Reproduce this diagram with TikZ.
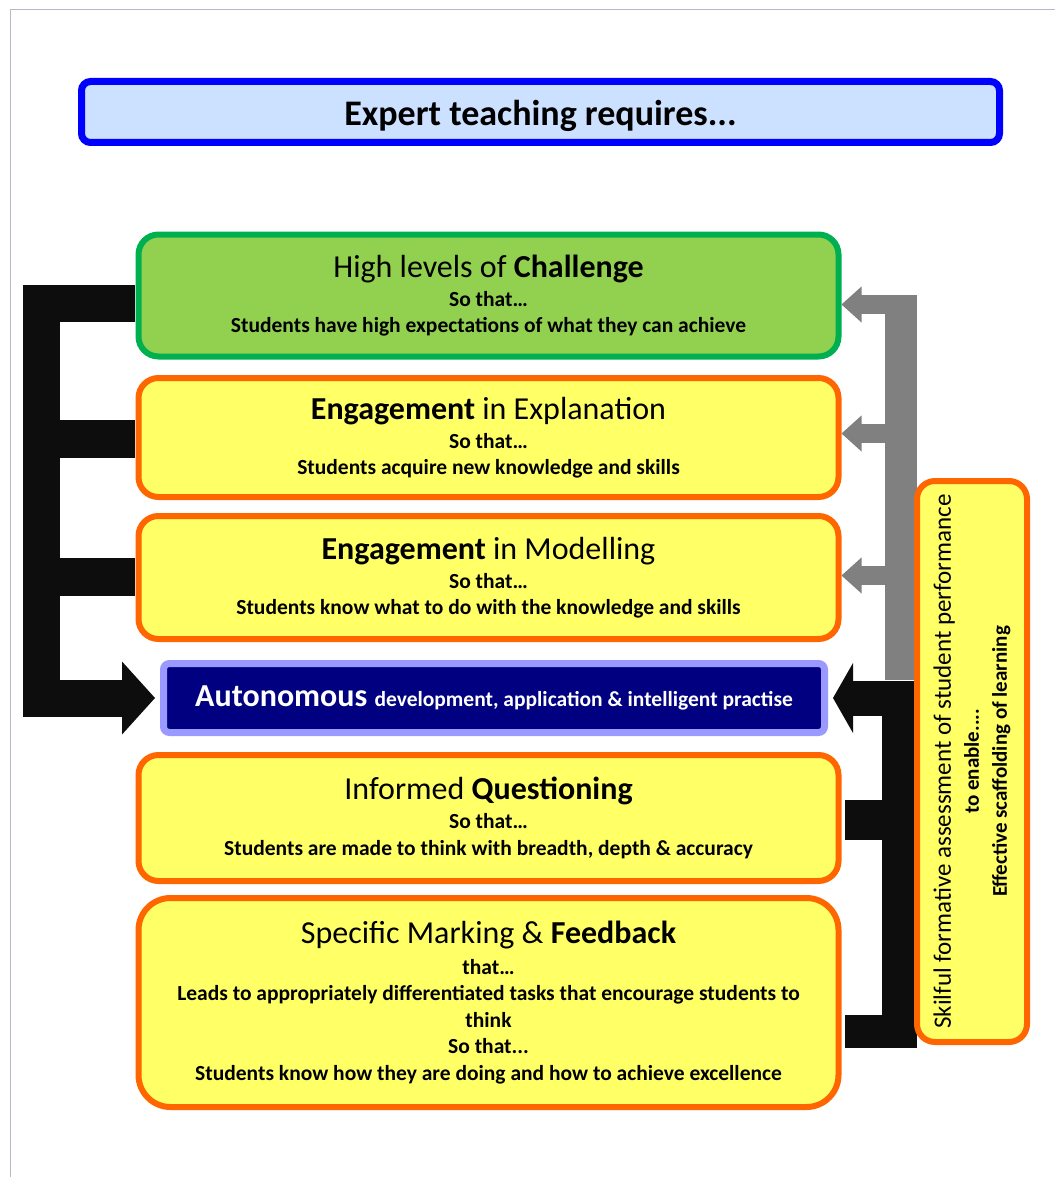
\documentclass[tikz,border=0pt]{standalone}
\usepackage{fontspec}
\setmainfont{Carlito}
\usetikzlibrary{positioning}

\definecolor{titlefill}{RGB}{204,224,255}
\definecolor{titleline}{RGB}{0,0,255}
\definecolor{chalfill}{RGB}{146,208,80}
\definecolor{challine}{RGB}{0,176,80}
\definecolor{yelfill}{RGB}{255,255,102}
\definecolor{orline}{RGB}{255,102,0}
\definecolor{autofill}{RGB}{0,0,128}
\definecolor{autoline}{RGB}{153,153,255}
\definecolor{pageline}{RGB}{180,186,198}
\definecolor{barblack}{RGB}{13,13,13}
\definecolor{bargray}{RGB}{128,128,128}

\newcommand{\headfont}{\fontsize{32}{36}\selectfont\mdseries}

\begin{document}
\begin{tikzpicture}[x=1pt,y=-1pt,
    box/.style = {rectangle,rounded corners=20pt,align=center,inner sep=0pt,
      minimum width=700pt,font=\fontsize{21.5}{26.5}\selectfont\bfseries},
    yellowbox/.style = {box,draw=orline,fill=yelfill,line width=6pt},
    blackbar/.style = {draw=barblack,line cap=butt,line join=miter},
    graybar/.style = {draw=bargray,line cap=butt,line join=miter}]
  \useasboundingbox (0,0) rectangle (1055,1177);
  \fill[white] (0,0) rectangle (1055,1177);
  \draw[pageline,line width=1pt] (10,1177) -- (10,10) -- (1055,10);

  % title
  \node[rectangle,rounded corners=9pt,draw=titleline,fill=titlefill,line width=7pt,
    minimum width=918pt,minimum height=61pt,inner sep=0pt,
    font=\fontsize{36}{40}\selectfont\bfseries] (title) at (540.5,112)
    {\raisebox{-14pt}[0pt][0pt]{Expert teaching requires...}};

  % left bracket (drawn under the boxes)
  \coordinate (lbar) at (41.5,698.5);
  \coordinate (rbar) at (901,300);
  \draw[blackbar,line width=37pt] (135,303.5) -- (41.5,303.5) -- (lbar) -- (123,698.5);
  \draw[blackbar,line width=38pt] (135,439) -- (33,439);
  \draw[blackbar,line width=38pt] (135,577) -- (33,577);

  % right side bars
  \draw[graybar,line width=32pt] (901,680) -- (901,295);
  \draw[blackbar,line width=35pt] (899.5,697.5) -- (899.5,1048);
  \draw[blackbar,line width=40pt] (899.5,820) -- (845,820);
  \draw[blackbar,line width=33pt] (899.5,1031.5) -- (845,1031.5);

  % main boxes
  \node[box,draw=challine,fill=chalfill,line width=6pt,minimum height=122pt] (chal) at (488.5,295.5)
    {{\headfont High levels of \textbf{Challenge}}\\[2.5pt] So that…\\ Students have high expectations of what they can achieve};
  \node[yellowbox,minimum height=119pt] (expl) at (488.5,437.5)
    {{\headfont\textbf{Engagement} in Explanation}\\[2.5pt] So that…\\ Students acquire new knowledge and skills};
  \node[yellowbox,minimum height=123pt] (mod) at (488.5,577.5)
    {{\headfont\textbf{Engagement} in Modelling}\\[2.5pt] So that…\\ Students know what to do with the knowledge and skills};
  \node[rectangle,rounded corners=6pt,draw=autoline,fill=autofill,line width=7pt,text=white,
    minimum width=661pt,minimum height=69pt,inner sep=0pt] (auto) at (494,698)
    {{\fontsize{32}{34}\selectfont\bfseries Autonomous\ }{\fontsize{21.5}{24}\selectfont\bfseries development, application \& intelligent practise}};
  \node[yellowbox,minimum height=126pt] (ques) at (488.5,818)
    {{\headfont Informed \textbf{Questioning}}\\[2.5pt] So that…\\ Students are made to think with breadth, depth \& accuracy};
  \node[yellowbox,rounded corners=32pt,minimum height=209pt] (feed) at (488.5,1002.5)
    {{\headfont Specific Marking \& \textbf{Feedback}}\\[4pt] that…\\ Leads to appropriately differentiated tasks that encourage students to\\ think\\ So that...\\ Students know how they are doing and how to achieve excellence};

  % side box
  \node[yellowbox,rounded corners=18pt,rotate=90,minimum width=561pt,minimum height=110pt,
    font=\fontsize{21}{28}\selectfont\bfseries] (side) at (972,761.5)
    {{\fontsize{25}{28}\selectfont\mdseries Skilful formative assessment of student performance}\\ to enable....\\ Effective scaffolding of learning};

  % arrow heads
  \fill[barblack] ([xshift=-5pt]auto.west) -- ++(-33,-36.5) -- ++(0,73) -- cycle;
  \draw[blackbar,line width=35pt] (side.north |- auto.east) -- ([xshift=25pt]auto.east);
  \fill[barblack] ([xshift=5pt]auto.east) -- ++(20,-35) -- ++(0,70) -- cycle;
  \foreach \bx/\dy in {chal/-9, expl/4, mod/2} {
    \coordinate (tip\bx) at ([yshift=\dy pt]\bx.east);
    \draw[graybar,line width=19.5pt] (tip\bx -| rbar) -- ([xshift=19pt]tip\bx);
    \fill[bargray] (tip\bx) -- ++(20,-18) -- ++(0,36) -- cycle;
  }
\end{tikzpicture}
\end{document}
